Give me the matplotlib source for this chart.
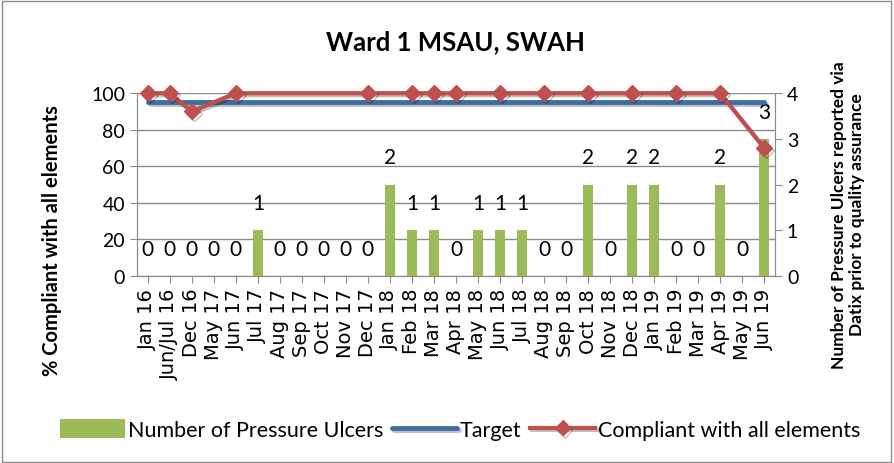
import numpy as np
import matplotlib.pyplot as plt
import matplotlib.patheffects as pe
from matplotlib.patches import Rectangle

months = ["Jan 16", "Jun/Jul 16", "Dec 16", "May 17", "Jun 17", "Jul 17", "Aug 17",
          "Sep 17", "Oct 17", "Nov 17", "Dec 17", "Jan 18", "Feb 18", "Mar 18",
          "Apr 18", "May 18", "Jun 18", "Jul 18", "Aug 18", "Sep 18", "Oct 18",
          "Nov 18", "Dec 18", "Jan 19", "Feb 19", "Mar 19", "Apr 19", "May 19", "Jun 19"]
ulcers = [0, 0, 0, 0, 0, 1, 0, 0, 0, 0, 0, 2, 1, 1, 0, 1, 1, 1, 0, 0, 2, 0, 2, 2, 0, 0, 2, 0, 3]
target = [95] * len(months)
nan = np.nan
compliant = [100, 100, 90, nan, 100, nan, nan, nan, nan, nan, 100, nan, 100, 100,
             100, nan, 100, nan, 100, nan, 100, nan, 100, nan, 100, nan, 100, nan, 70]

label_font = "Lato"
grey = "#8c8c8c"

fig = plt.figure(figsize=(8.94, 4.64), dpi=100)
fig.patches.append(Rectangle((0.002, 0.003), 0.995, 0.993, transform=fig.transFigure,
                             fill=False, edgecolor=grey, linewidth=1))

ax = fig.add_axes([0.153, 0.403, 0.714, 0.394])
x = np.arange(len(months))

# bars on the right-hand scale
ax2 = ax.twinx()
bars = ax2.bar(x, ulcers, width=0.45, color="#9BBB59", label="Number of Pressure Ulcers", zorder=2)
for xi, v in zip(x, ulcers):
    ax2.text(xi, v + 0.38, str(v), ha="center", va="bottom", fontsize=15, family=label_font)
ax2.set_ylim(0, 4)
ax2.set_yticks([0, 1, 2, 3, 4])
ax2.patch.set_visible(False)

# lines on the left-hand scale, drawn in a top layer
ax3 = ax.twinx()
ax3.set_ylim(0, 100)
ax3.axis("off")
shadow = [pe.SimpleLineShadow(offset=(1.5, -1.5), alpha=0.25), pe.Normal()]
tl, = ax3.plot(x, target, color="#3C6EA5", linewidth=3.5, label="Target",
               path_effects=shadow, solid_capstyle="round")
m = ~np.isnan(np.array(compliant, dtype=float))
cl, = ax3.plot(x[m], np.array(compliant)[m], color="#C0504D", linewidth=3, marker="D",
               markersize=8, label="Compliant with all elements", path_effects=shadow,
               clip_on=False)

ax.set_ylim(0, 100)
ax.set_yticks([0, 20, 40, 60, 80, 100])
ax.set_xlim(-0.5, len(months) - 0.5)
ax.set_xticks(x)
ax.set_xticklabels(months, rotation=90, fontsize=14, family="DejaVu Sans")
ax.grid(axis="y", color=grey, linewidth=1)
ax.set_axisbelow(True)

for a in (ax, ax2):
    for s in a.spines.values():
        s.set_color(grey)
    a.tick_params(colors=grey, labelcolor="black", length=5)
    for t in a.get_yticklabels():
        t.set_fontsize(14)
        t.set_family(label_font)
ax2.spines["top"].set_visible(False)
ax.spines["top"].set_visible(False)

ax.set_ylabel("% Compliant with all elements", fontsize=14.5, fontweight="bold",
              family=label_font)
ax.yaxis.set_label_coords(-0.117, 0.2)
ax2.set_ylabel("Number of Pressure Ulcers reported via\nDatix prior to quality assurance",
               fontsize=12.5, fontweight="bold", family=label_font, linespacing=1.1)
ax2.yaxis.set_label_coords(1.088, 0.34)

fig.suptitle("Ward 1 MSAU, SWAH", x=0.51, y=0.935, fontsize=18.5, fontweight="bold",
             family=label_font)

fig.legend(handles=[bars, tl, cl], loc="center", bbox_to_anchor=(0.515, 0.072), ncol=3,
           frameon=False, prop={"family": label_font, "size": 15.5}, handlelength=3.0,
           handleheight=1.0, handletextpad=0.15, columnspacing=0.4)

fig.savefig("out.png", dpi=100)
